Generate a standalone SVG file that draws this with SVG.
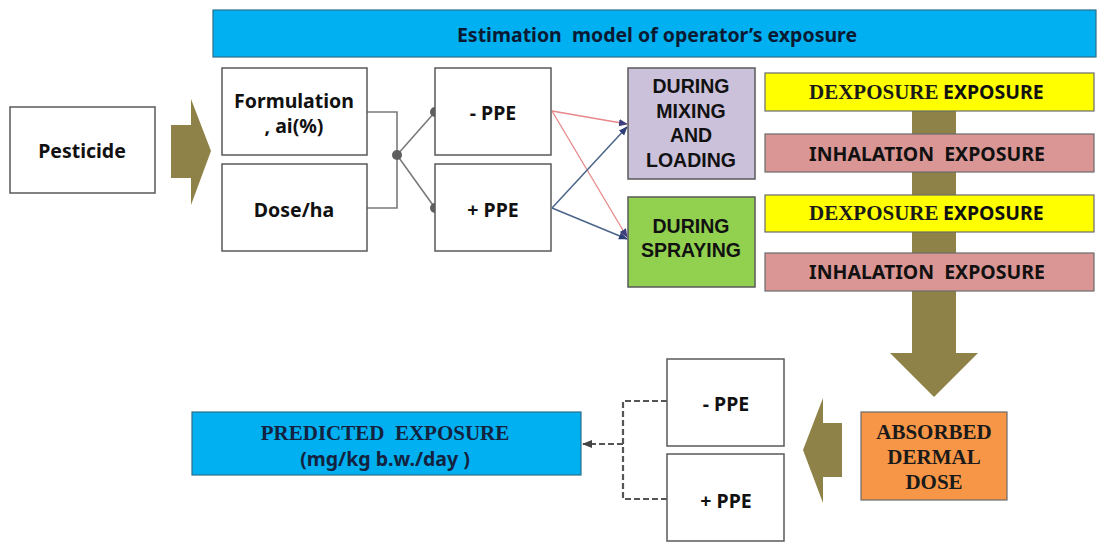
<svg xmlns="http://www.w3.org/2000/svg" width="1098" height="542" viewBox="0 0 1098 542">
  <defs>
    <style>
      .box { fill: #ffffff; stroke: #595959; stroke-width: 1.5; }
      .lbl { font-family: "Noto Sans", "Open Sans", sans-serif; font-weight: bold; font-size: 19.5px; fill: #111111; text-anchor: middle; dominant-baseline: central; white-space: pre; }
      .stack { font-family: "Liberation Sans", Arial, sans-serif; font-weight: bold; font-size: 19.5px; fill: #111111; text-anchor: middle; dominant-baseline: central; }
      .ser { font-family: "Liberation Serif", "Times New Roman", serif; font-weight: bold; font-size: 21px; fill: #1a1a1a; white-space: pre; }
      .bar { stroke: #6b6b6b; stroke-width: 1.2; }
      .olive { fill: #8E8248; }
      .wire { fill: none; stroke: #7a7a7a; stroke-width: 1.6; }
      .dot { fill: #5f5f5f; }
      .red { stroke: #E8888A; stroke-width: 1.3; fill: none; }
      .blue { stroke: #4A6489; stroke-width: 1.5; fill: none; }
      .dash { fill: none; stroke: #555555; stroke-width: 2.2; stroke-dasharray: 6 3; }
    </style>
    <marker id="headRed" viewBox="0 0 10 10" refX="9" refY="5" markerWidth="9" markerHeight="9" markerUnits="userSpaceOnUse" orient="auto">
      <path d="M0,1 L10,5 L0,9 z" fill="#3D3F7A"/>
    </marker>
    <marker id="headBlue" viewBox="0 0 10 10" refX="9" refY="5" markerWidth="9" markerHeight="9" markerUnits="userSpaceOnUse" orient="auto">
      <path d="M0,1 L10,5 L0,9 z" fill="#2E3F78"/>
    </marker>
    <marker id="headDash" viewBox="0 0 10 10" refX="9" refY="5" markerWidth="10" markerHeight="10" markerUnits="userSpaceOnUse" orient="auto">
      <path d="M0,1 L10,5 L0,9 z" fill="#444444"/>
    </marker>
  </defs>

  <rect width="1098" height="542" fill="#ffffff"/>

  <!-- header banner -->
  <g id="header">
    <rect x="213" y="10" width="883" height="47" fill="#00B0F0" stroke="#2a6f8a" stroke-width="1.2"/>
    <text class="lbl" x="657" y="34" xml:space="preserve" style="fill:#0b1a33">Estimation  model of operator’s exposure</text>
  </g>

  <!-- block arrows -->
  <g id="arrow-pesticide">
    <path class="olive" d="M171,125 H191 V99 L211,151 L191,205 V178 H171 Z"/>
  </g>
  <g id="arrow-down">
    <path class="olive" d="M912,111 H956 V353 H978 L934,397 L890,353 H912 Z"/>
  </g>
  <g id="arrow-left">
    <path class="olive" d="M842,423 H823 V398 L803,450 L823,503 V477 H842 Z"/>
  </g>

  <!-- connectors -->
  <g id="connectors">
    <path class="wire" d="M367,112 H397 V208 H367"/>
    <path class="wire" d="M397,155 L435,112 M397,155 L435,208"/>
    <circle class="dot" cx="397" cy="155" r="5"/>
    <circle class="dot" cx="435" cy="112" r="5"/>
    <circle class="dot" cx="435" cy="208" r="5"/>

    <line class="red" x1="552" y1="111" x2="627" y2="124" marker-end="url(#headRed)"/>
    <line class="red" x1="552" y1="111" x2="627" y2="237" marker-end="url(#headRed)"/>
    <line class="blue" x1="552" y1="208" x2="627" y2="127" marker-end="url(#headBlue)"/>
    <line class="blue" x1="552" y1="208" x2="627" y2="239" marker-end="url(#headBlue)"/>

    <path class="dash" d="M667,401 H623 V499 H667"/>
    <line class="dash" x1="623" y1="444" x2="583" y2="444" marker-end="url(#headDash)"/>
  </g>

  <!-- nodes -->
  <g id="pesticide">
    <rect class="box" x="10" y="107" width="145" height="86"/>
    <text class="lbl" x="82" y="150">Pesticide</text>
  </g>
  <g id="formulation">
    <rect class="box" x="222" y="68" width="145" height="87"/>
    <text class="lbl" x="294" y="100">Formulation</text>
    <text class="lbl" x="294" y="125">, ai(%)</text>
  </g>
  <g id="dose">
    <rect class="box" x="222" y="164" width="145" height="87"/>
    <text class="lbl" x="294" y="209">Dose/ha</text>
  </g>
  <g id="no-ppe">
    <rect class="box" x="435" y="68" width="116" height="87"/>
    <text class="lbl" x="493" y="112">- PPE</text>
  </g>
  <g id="with-ppe">
    <rect class="box" x="435" y="164" width="116" height="87"/>
    <text class="lbl" x="493" y="209">+ PPE</text>
  </g>
  <g id="mixing">
    <rect x="628" y="68" width="127" height="111" fill="#CCC1DA" stroke="#595959" stroke-width="1.5"/>
    <text class="stack" x="691" y="86">DURING</text>
    <text class="stack" x="691" y="110.5">MIXING</text>
    <text class="stack" x="691" y="135">AND</text>
    <text class="stack" x="691" y="159.5">LOADING</text>
  </g>
  <g id="spraying">
    <rect x="628" y="197" width="127" height="90" fill="#92D050" stroke="#595959" stroke-width="1.5"/>
    <text class="stack" x="691" y="226">DURING</text>
    <text class="stack" x="691" y="250">SPRAYING</text>
  </g>

  <g id="dermal-1">
    <rect class="bar" x="765" y="73" width="329" height="38" fill="#FFFF00"/>
    <text class="ser" x="809" y="99">DEXPOSURE</text>
    <text class="lbl" x="943" y="91" style="text-anchor:start">EXPOSURE</text>
  </g>
  <g id="inhalation-1">
    <rect class="bar" x="765" y="134" width="329" height="38" fill="#D99694"/>
    <text class="lbl" x="927" y="153" xml:space="preserve">INHALATION  EXPOSURE</text>
  </g>
  <g id="dermal-2">
    <rect class="bar" x="765" y="195" width="329" height="37" fill="#FFFF00"/>
    <text class="ser" x="809" y="220">DEXPOSURE</text>
    <text class="lbl" x="943" y="212" style="text-anchor:start">EXPOSURE</text>
  </g>
  <g id="inhalation-2">
    <rect class="bar" x="765" y="253" width="329" height="38" fill="#D99694"/>
    <text class="lbl" x="927" y="271" xml:space="preserve">INHALATION  EXPOSURE</text>
  </g>

  <g id="absorbed">
    <rect x="861" y="412" width="146" height="88" fill="#F79646" stroke="#6b6b6b" stroke-width="1.2"/>
    <text class="ser" x="934" y="439" text-anchor="middle">ABSORBED</text>
    <text class="ser" x="934" y="464" text-anchor="middle">DERMAL</text>
    <text class="ser" x="934" y="489" text-anchor="middle">DOSE</text>
  </g>
  <g id="no-ppe-2">
    <rect class="box" x="667" y="359" width="117" height="87"/>
    <text class="lbl" x="726" y="403">- PPE</text>
  </g>
  <g id="with-ppe-2">
    <rect class="box" x="667" y="454" width="117" height="87"/>
    <text class="lbl" x="726" y="500">+ PPE</text>
  </g>
  <g id="predicted">
    <rect x="192" y="412" width="389" height="63" fill="#00B0F0" stroke="#2a6f8a" stroke-width="1.2"/>
    <text class="ser" x="385" y="440" text-anchor="middle" xml:space="preserve" style="fill:#13233f">PREDICTED  EXPOSURE</text>
    <text class="lbl" x="385" y="458" style="fill:#13233f">(mg/kg b.w./day )</text>
  </g>
</svg>
